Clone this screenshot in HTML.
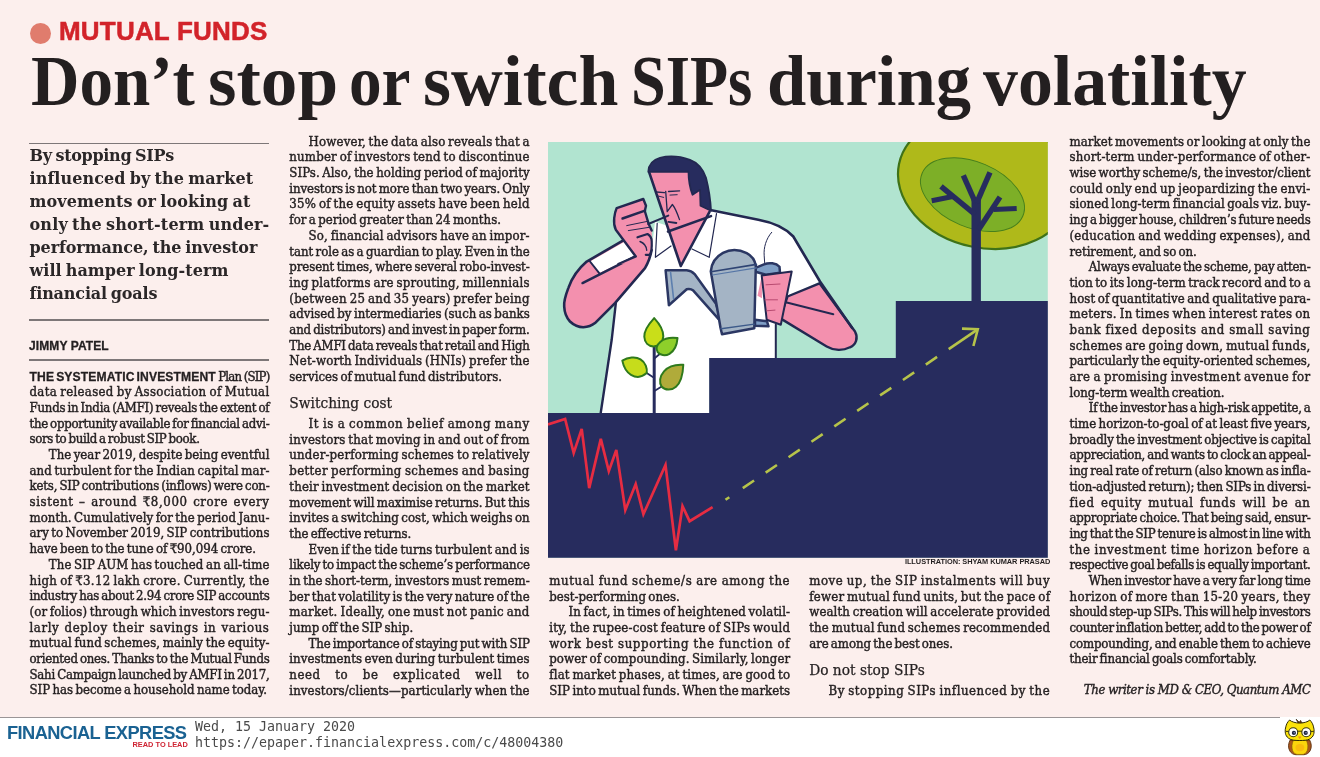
<!DOCTYPE html>
<html lang="en">
<head>
<meta charset="utf-8">
<title>Don’t stop or switch SIPs during volatility</title>
<style>
html,body{margin:0;padding:0}
body{width:1320px;height:757px;overflow:hidden;background:#fff;position:relative;
 font-family:"Liberation Serif",serif;color:#231f20;-webkit-font-smoothing:antialiased}
#paper{position:absolute;left:0;top:0;width:1320px;height:717px;background:#fcefed}
body>*{transform:translateZ(0)}
.abs{position:absolute;white-space:nowrap}
#dot{position:absolute;left:30px;top:23px;width:21px;height:21px;border-radius:50%;background:#e07c6d}
#kicker{left:59px;top:16px;font:bold 26px/30px "Liberation Sans",sans-serif;color:#d2232a;letter-spacing:.2px;-webkit-text-stroke:.5px #d2232a}
#hl{left:0;top:40.5px;margin:0;width:1320px;height:80px;font:bold 72px/80px "Liberation Serif",serif;color:#231f20}
#hl span{position:absolute;top:0;display:block;transform-origin:0 0}
.rule{position:absolute;left:29.2px;width:240.3px;height:1.2px;background:#7d7778}
#stand{left:29.5px;top:143.6px;font:bold 16px/23.13px "DejaVu Serif","Liberation Serif",serif;color:#2b2728;word-spacing:-1.5px}
#byline{left:29px;top:338px;font:bold 12px/16px "Liberation Sans",sans-serif;color:#231f20;letter-spacing:.1px;-webkit-text-stroke:.3px #231f20}
.col{position:absolute;width:var(--w);font:13.1px/15.7px "DejaVu Serif Condensed","DejaVu Serif","Liberation Serif",serif;font-stretch:condensed;color:#231f20;-webkit-text-stroke:.42px #231f20}
.col div{height:15.7px;white-space:nowrap}
.l{text-align:justify;text-align-last:justify;word-spacing:-1.4px}
.l.e{text-align:left;text-align-last:left}
.l.i{text-indent:19.3px}
.col .h{-webkit-text-stroke:.25px #231f20;font-size:15.3px;line-height:20px;height:22.8px;padding-top:8.6px;text-align:left}
.k{font:bold 12.1px/15.7px "Liberation Sans",sans-serif;letter-spacing:.13px;word-spacing:-2.2px;-webkit-text-stroke:.3px #231f20}
.nc .col{font-family:"DejaVu Serif","Liberation Serif",serif;font-stretch:normal;transform:translateZ(0) scaleX(.9);transform-origin:0 0;width:calc(var(--w)/.9)}
.nc #writer{font-family:"DejaVu Serif","Liberation Serif",serif;font-stretch:normal;transform:translateZ(0) scaleX(.9);transform-origin:100% 0;width:268px;left:1042.5px}
#writer{left:1069.5px;top:682.3px;width:241px;text-align:right;font:italic 13.1px/15.7px "DejaVu Serif Condensed","DejaVu Serif","Liberation Serif",serif;font-stretch:condensed;letter-spacing:-.45px;-webkit-text-stroke:.4px #231f20}
#credit{left:850.3px;top:557px;width:200px;text-align:right;font:bold 7.4px/10px "Liberation Sans",sans-serif;letter-spacing:-.05px;color:#231f20}
#illus{position:absolute;left:548px;top:142.2px}
#footrule{position:absolute;left:0;top:716.5px;width:1280px;height:1.2px;background:#9a9596}
#fe{left:7px;top:723px;font:bold 18.3px/20px "Liberation Sans",sans-serif;color:#1a6292;letter-spacing:-.6px}
#rtl{left:132.5px;top:739.8px;font:bold 7.4px/9px "Liberation Sans",sans-serif;color:#cf2433;letter-spacing:0}
#meta{left:195px;top:719px;font:13.3px/16px "DejaVu Sans Mono","Liberation Mono",monospace;color:#4a4a4a}
#owl{position:absolute;left:1283px;top:717px}
</style>
</head>
<body>
<div id="paper"></div>
<div id="dot"></div>
<div id="kicker" class="abs">MUTUAL FUNDS</div>
<h1 id="hl" class="abs"><span style="left:31.1px;transform:scaleX(.931)">Don’t</span> <span style="left:208px;transform:scaleX(1.016)">stop</span> <span style="left:349.3px;transform:scaleX(.905)">or</span> <span style="left:423px;transform:scaleX(.997)">switch</span> <span style="left:630.5px;transform:scaleX(.866)">SIPs</span> <span style="left:767px;transform:scaleX(.98)">during</span> <span style="left:982.5px;transform:scaleX(.969)">volatility</span></h1>

<div class="rule" style="top:142.8px"></div>
<div id="stand" class="abs"><span style="letter-spacing:-.31px">By stopping SIPs</span><br><span style="letter-spacing:.09px">influenced by the market</span><br><span style="letter-spacing:.1px">movements or looking at</span><br><span style="letter-spacing:.17px">only the short-term under-</span><br><span style="letter-spacing:-.1px">performance, the investor</span><br><span style="letter-spacing:.04px">will hamper long-term</span><br><span style="letter-spacing:-.16px">financial goals</span></div>
<div class="rule" style="top:319.4px"></div>
<div id="byline" class="abs">JIMMY PATEL</div>
<div class="rule" style="top:359.4px"></div>

<div class="col" id="c1" style="left:29.5px;top:368.6px;--w:240.00px">
<div class="l" style="letter-spacing:-0.8px"><b class="k">THE SYSTEMATIC INVESTMENT</b> Plan (SIP)</div>
<div class="l" style="letter-spacing:0.323px">data released by Association of Mutual</div>
<div class="l" style="letter-spacing:-0.229px">Funds in India (AMFI) reveals the extent of</div>
<div class="l" style="letter-spacing:-0.274px">the opportunity available for financial advi-</div>
<div class="l e" style="letter-spacing:-0.302px">sors to build a robust SIP book.</div>
<div class="l i" style="letter-spacing:0.023px">The year 2019, despite being eventful</div>
<div class="l" style="letter-spacing:0.102px">and turbulent for the Indian capital mar-</div>
<div class="l" style="letter-spacing:-0.183px">kets, SIP contributions (inflows) were con-</div>
<div class="l" style="letter-spacing:0.6px">sistent – around ₹8,000 crore every</div>
<div class="l" style="letter-spacing:0.04px">month. Cumulatively for the period Janu-</div>
<div class="l">ary to November 2019, SIP contributions</div>
<div class="l e" style="letter-spacing:-0.025px">have been to the tune of ₹90,094 crore.</div>
<div class="l i" style="letter-spacing:0.111px">The SIP AUM has touched an all-time</div>
<div class="l" style="letter-spacing:0.303px">high of ₹3.12 lakh crore. Currently, the</div>
<div class="l" style="letter-spacing:-0.259px">industry has about 2.94 crore SIP accounts</div>
<div class="l" style="letter-spacing:0.097px">(or folios) through which investors regu-</div>
<div class="l" style="letter-spacing:0.6px">larly deploy their savings in various</div>
<div class="l" style="letter-spacing:0.082px">mutual fund schemes, mainly the equity-</div>
<div class="l" style="letter-spacing:-0.254px">oriented ones. Thanks to the Mutual Funds</div>
<div class="l" style="letter-spacing:-0.233px">Sahi Campaign launched by AMFI in 2017,</div>
<div class="l e" style="letter-spacing:-0.007px">SIP has become a household name today.</div>
</div>
<div class="col" id="c2" style="left:289.3px;top:133.7px;--w:240.40px">
<div class="l i" style="letter-spacing:0.169px">However, the data also reveals that a</div>
<div class="l" style="letter-spacing:0.181px">number of investors tend to discontinue</div>
<div class="l" style="letter-spacing:0.066px">SIPs. Also, the holding period of majority</div>
<div class="l" style="letter-spacing:-0.089px">investors is not more than two years. Only</div>
<div class="l" style="letter-spacing:0.214px">35% of the equity assets have been held</div>
<div class="l e" style="letter-spacing:0.018px">for a period greater than 24 months.</div>
<div class="l i" style="letter-spacing:0.171px">So, financial advisors have an impor-</div>
<div class="l" style="letter-spacing:-0.042px">tant role as a guardian to play. Even in the</div>
<div class="l" style="letter-spacing:-0.069px">present times, where several robo-invest-</div>
<div class="l" style="letter-spacing:0.185px">ing platforms are sprouting, millennials</div>
<div class="l" style="letter-spacing:0.254px">(between 25 and 35 years) prefer being</div>
<div class="l">advised by intermediaries (such as banks</div>
<div class="l" style="letter-spacing:-0.163px">and distributors) and invest in paper form.</div>
<div class="l" style="letter-spacing:-0.215px">The AMFI data reveals that retail and High</div>
<div class="l" style="letter-spacing:0.155px">Net-worth Individuals (HNIs) prefer the</div>
<div class="l e" style="letter-spacing:0.012px">services of mutual fund distributors.</div>
<div class="h">Switching cost</div>
<div class="l i" style="letter-spacing:0.599px">It is a common belief among many</div>
<div class="l" style="letter-spacing:0.191px">investors that moving in and out of from</div>
<div class="l" style="letter-spacing:0.171px">under-performing schemes to relatively</div>
<div class="l" style="letter-spacing:0.334px">better performing schemes and basing</div>
<div class="l" style="letter-spacing:0.17px">their investment decision on the market</div>
<div class="l" style="letter-spacing:-0.08px">movement will maximise returns. But this</div>
<div class="l" style="letter-spacing:0.033px">invites a switching cost, which weighs on</div>
<div class="l e" style="letter-spacing:-0.064px">the effective returns.</div>
<div class="l i" style="letter-spacing:0.104px">Even if the tide turns turbulent and is</div>
<div class="l" style="letter-spacing:-0.185px">likely to impact the scheme’s performance</div>
<div class="l">in the short-term, investors must remem-</div>
<div class="l">ber that volatility is the very nature of the</div>
<div class="l" style="letter-spacing:0.268px">market. Ideally, one must not panic and</div>
<div class="l e" style="letter-spacing:0.01px">jump off the SIP ship.</div>
<div class="l i" style="letter-spacing:-0.146px">The importance of staying put with SIP</div>
<div class="l" style="letter-spacing:0.046px">investments even during turbulent times</div>
<div class="l" style="letter-spacing:0.599px">need to be explicated well to</div>
<div class="l" style="letter-spacing:0.103px">investors/clients—particularly when the</div>
</div>
<div class="col" id="c3" style="left:549.2px;top:573.0px;--w:241.00px">
<div class="l" style="letter-spacing:0.6px">mutual fund scheme/s are among the</div>
<div class="l e" style="letter-spacing:0.014px">best-performing ones.</div>
<div class="l i" style="letter-spacing:0.116px">In fact, in times of heightened volatil-</div>
<div class="l" style="letter-spacing:0.213px">ity, the rupee-cost feature of SIPs would</div>
<div class="l" style="letter-spacing:0.6px">work best supporting the function of</div>
<div class="l" style="letter-spacing:0.084px">power of compounding. Similarly, longer</div>
<div class="l" style="letter-spacing:0.177px">flat market phases, at times, are good to</div>
<div class="l" style="letter-spacing:0.047px">SIP into mutual funds. When the markets</div>
</div>
<div class="col" id="c4" style="left:809.2px;top:573.0px;--w:241.00px">
<div class="l" style="letter-spacing:0.544px">move up, the SIP instalments will buy</div>
<div class="l" style="letter-spacing:0.202px">fewer mutual fund units, but the pace of</div>
<div class="l" style="letter-spacing:0.121px">wealth creation will accelerate provided</div>
<div class="l" style="letter-spacing:0.165px">the mutual fund schemes recommended</div>
<div class="l e" style="letter-spacing:-0.07px">are among the best ones.</div>
<div class="h">Do not stop SIPs</div>
<div class="l i" style="letter-spacing:0.514px">By stopping SIPs influenced by the</div>
</div>
<div class="col" id="c5" style="left:1069.5px;top:133.7px;--w:241.00px">
<div class="l" style="letter-spacing:0.067px">market movements or looking at only the</div>
<div class="l" style="letter-spacing:0.159px">short-term under-performance of other-</div>
<div class="l" style="letter-spacing:-0.045px">wise worthy scheme/s, the investor/client</div>
<div class="l" style="letter-spacing:0.202px">could only end up jeopardizing the envi-</div>
<div class="l" style="letter-spacing:0.062px">sioned long-term financial goals viz. buy-</div>
<div class="l" style="letter-spacing:-0.204px">ing a bigger house, children’s future needs</div>
<div class="l" style="letter-spacing:0.224px">(education and wedding expenses), and</div>
<div class="l e" style="letter-spacing:-0.065px">retirement, and so on.</div>
<div class="l i" style="letter-spacing:-0.21px">Always evaluate the scheme, pay atten-</div>
<div class="l" style="letter-spacing:0.053px">tion to its long-term track record and to a</div>
<div class="l" style="letter-spacing:0.069px">host of quantitative and qualitative para-</div>
<div class="l" style="letter-spacing:0.284px">meters. In times when interest rates on</div>
<div class="l" style="letter-spacing:0.6px">bank fixed deposits and small saving</div>
<div class="l" style="letter-spacing:0.23px">schemes are going down, mutual funds,</div>
<div class="l" style="letter-spacing:-0.055px">particularly the equity-oriented schemes,</div>
<div class="l" style="letter-spacing:0.378px">are a promising investment avenue for</div>
<div class="l e" style="letter-spacing:-0.055px">long-term wealth creation.</div>
<div class="l i" style="letter-spacing:-0.297px">If the investor has a high-risk appetite, a</div>
<div class="l">time horizon-to-goal of at least five years,</div>
<div class="l" style="letter-spacing:-0.145px">broadly the investment objective is capital</div>
<div class="l" style="letter-spacing:-0.272px">appreciation, and wants to clock an appeal-</div>
<div class="l" style="letter-spacing:-0.13px">ing real rate of return (also known as infla-</div>
<div class="l" style="letter-spacing:-0.117px">tion-adjusted return); then SIPs in diversi-</div>
<div class="l" style="letter-spacing:0.6px">fied equity mutual funds will be an</div>
<div class="l" style="letter-spacing:-0.247px">appropriate choice. That being said, ensur-</div>
<div class="l" style="letter-spacing:-0.267px">ing that the SIP tenure is almost in line with</div>
<div class="l" style="letter-spacing:0.6px">the investment time horizon before a</div>
<div class="l" style="letter-spacing:-0.315px">respective goal befalls is equally important.</div>
<div class="l i" style="letter-spacing:-0.226px">When investor have a very far long time</div>
<div class="l" style="letter-spacing:0.376px">horizon of more than 15-20 years, they</div>
<div class="l" style="letter-spacing:-0.328px">should step-up SIPs. This will help investors</div>
<div class="l" style="letter-spacing:-0.277px">counter inflation better, add to the power of</div>
<div class="l" style="letter-spacing:-0.154px">compounding, and enable them to achieve</div>
<div class="l e" style="letter-spacing:-0.151px">their financial goals comfortably.</div>
</div>

<div id="writer" class="abs">The writer is MD &amp; CEO, Quantum AMC</div>

<svg id="illus" width="499.8" height="416" viewBox="548 142.2 499.8 416">
<defs><clipPath id="ic"><rect x="548" y="142.2" width="499.8" height="416"/></clipPath></defs>
<g clip-path="url(#ic)" stroke-linejoin="round" stroke-linecap="round">
<rect x="548" y="142" width="500" height="416" fill="#b1e4d0"/>

<!-- tree -->
<g>
<ellipse cx="984.9" cy="181.9" rx="87.7" ry="66.2" transform="rotate(11.7 984.9 181.9)" fill="#afb91a" stroke="#3f7218" stroke-width="2.2"/>
<ellipse cx="972.5" cy="194.8" rx="54.7" ry="32.6" transform="rotate(23 972.5 194.8)" fill="#7daf27" stroke="#47801c" stroke-width="1"/>
<g stroke="#272c5e" fill="none" stroke-linecap="butt">
<path d="M976.2 303V200" stroke-width="9.4"/>
<path d="M975.5 203L963.3 175.5" stroke-width="5.4"/>
<path d="M976.7 203L990 172.5" stroke-width="5.4"/>
<path d="M975 214.5L941 186.5" stroke-width="5.4"/>
<path d="M954 196.5L931.7 201" stroke-width="5"/>
<path d="M978.5 230L1000 197.2" stroke-width="5.4"/>
<path d="M993.5 209.8L1016.7 208.6" stroke-width="5"/>
</g>
</g>

<!-- man: shirt body -->
<g stroke="#232851" stroke-width="2.4">
<!-- torso + right sleeve (white) -->
<path d="M600.8 414L611.7 340L615.8 304.2L645 268.3L651.7 250L655 222L680 230L710 210L758.3 220C772 222.5 785 228 793.3 236.7L820 281.7L788 296.7L780 318L775.8 325V359H709.2V414Z" fill="#fff" stroke="none"/>
<path d="M600.6 414L611.7 340L615.8 303.5" fill="none"/>
<path d="M775.8 358.5V325" fill="none" stroke-width="2"/>

<!-- right arm (viewer's right), pink lobe -->
<path d="M787.5 296.7L819.5 283.5L855 331.7C858.5 338 856 345 850 347.5C843 351 834 351 826.7 346.7L780 318.3Z" fill="#f390ae"/>
<path d="M785.8 302.5L833.3 314.5" fill="none" stroke-width="2"/>
<!-- right shoulder outline -->
<path d="M709 210L758.3 220C772 222.5 785 228 793.3 236.7L820 281.7L852 328" fill="none" stroke-width="2.6"/>
<path d="M771.7 232.5C766 239 763.5 248 764.2 256L765 268" fill="none" stroke-width="1"/>

<!-- left arm (pink) + sleeve cuff (white) -->
<path d="M623.3 240.5L586.7 261.7C577 270 571.5 279 568.3 288.3C565 297 563.6 302 564.2 306.7C564.5 313 566.5 318 570 321.7C574 325.5 578.5 327.5 583.3 327.5C588 327.3 592 325.8 595 323.3L615 303.3L645 268.3C648.5 262.5 650.5 256.5 651.7 250L652.5 238L640 232Z" fill="#f390ae" stroke="none"/>
<path d="M590 261.7L626.7 240.8L636.7 255.8L599.2 273.3Z" fill="#fff" stroke="none"/>
<path d="M623.3 240.5L586.7 261.7C577 270 571.5 279 568.3 288.3C565 297 563.6 302 564.2 306.7C564.5 313 566.5 318 570 321.7C574 325.5 578.5 327.5 583.3 327.5C588 327.3 592 325.8 595 323.3L615 303.3L645 268.3C648.5 262.5 650.5 256.5 651.7 250" fill="none" stroke-width="2.6"/>
<path d="M590 261.7L599.2 273.3" fill="none" stroke-width="2"/>
<path d="M636.7 255.8L582.5 283.3" fill="none" stroke-width="2.4"/>

<!-- neck / face -->
<path d="M649.2 172.5L680.8 266.2L709.5 211L705 190L688.5 171.7Z" fill="#f390ae" stroke="none"/>
<!-- collars -->
<path d="M657.2 223.5L655.4 257.5L671 246.2" fill="none" stroke-width="1.2"/>
<path d="M716.5 213.8L709.2 257.5L692 249.2" fill="none" stroke-width="1.2"/>
<!-- face lines -->
<path d="M649.2 172.5L680.8 266.2L709.5 212" fill="none" stroke-width="2.6"/>
<path d="M668 231.7L711 216.3" fill="none" stroke-width="2.6"/>
<path d="M656.3 192.2L664.5 192.9M668.5 191.7L679.6 191" fill="none" stroke-width="1.3"/>
<path d="M658 196.2L663.7 197.6M670 195.3L677.2 194.9" fill="none" stroke-width="1"/>
<path d="M665.7 191.5L667.2 211.8L672.4 204.7C675 208 677.5 214 679.5 219.8" fill="none" stroke-width="1.3"/>
<path d="M668.4 222.1L676.4 223.2" fill="none" stroke-width="1.8"/>
<!-- hair -->
<path d="M648.3 172C648.5 165 653 160 660 158C668 156 680 156.5 690 160C698 163 703 169 706 178C708.5 188 710.5 200 711 211L700.5 206L700 190L692.5 195C689.5 187 688.5 178 688.5 171.7Z" fill="#272c5e" stroke-width="1.8"/>

<!-- left hand (raised) -->
<path d="M618.3 264.2L635.8 256.7L615.8 230C614 226 613.8 222 614.2 218.3C614.6 214 615.5 211 616.7 208.3L643.3 199.2L646 206L644.8 211.2L648.8 224.5L651.7 230.8L652.2 250L640 263Z" fill="#f390ae" stroke="none"/>
<path d="M618.3 264.2L635.8 256.7L615.8 230C614 226 613.8 222 614.2 218.3C614.6 214 615.5 211 616.7 208.3L643.3 199.2L646 206L644.8 211.2L648.8 224.5L651.7 230.8" fill="none" stroke-width="2.4"/>
<path d="M622.5 218.7L645 210.8" fill="none" stroke-width="2.4"/>
<path d="M626.7 225.8L646.7 221.7M628.3 230.8L649.2 227.5" fill="none" stroke-width="1"/>
<path d="M637.5 237.5L647.5 234.2C650.5 236 651.7 239 651.7 241.7C652 247 651.5 251.5 650 255L645.8 255" fill="none" stroke-width="2.2"/>
<path d="M640 241.7C644.5 243.5 646.5 247 646.7 250.5" fill="none" stroke-width="1.4"/>
<path d="M648.3 224.2L668.3 215.8" fill="none" stroke-width="2"/>

<!-- watering can -->
<g stroke="#2b3763" stroke-width="2.5">
<path d="M665.6 270.4L686.7 270.4C690 270.6 692.5 272 694.6 274.3L716 304L722 323L693.3 290.8C691 289 689 288.8 686.7 289.5L668.9 305.4Z" fill="#a4b4c5"/>
<path d="M670.6 272.8L673.6 299" fill="none" stroke="#5d7fae" stroke-width="1.6"/>
<path d="M755.5 268L764 264.5C769 262.5 776 263 779.5 267L780 273L766 275L755.5 272Z" fill="#7f9fc6"/>
<path d="M755 320L767 321.5L768.5 326.5L755 326Z" fill="#7f9fc6"/>
<path d="M710.8 271.5C711.5 263 716.5 256.5 723 253C730 249.5 739 249.5 746.7 253.3C752 256 755 261 755.8 266L754.3 328.5L722 334.5L720.5 328Z" fill="#a4b4c5"/>
<path d="M711 271.9L756.5 264.6" fill="none" stroke="#2f4474" stroke-width="1.6"/><path d="M712.4 275.2L756.3 268" fill="none" stroke="#5676a6" stroke-width="1.2"/>
<path d="M721 328.9L754.3 324.3" fill="none" stroke="#3d5a8a" stroke-width="1.4"/>
</g>
<!-- right hand holding can -->
<path d="M761.7 276L757.5 296L762 298.5Z" fill="#f390ae" stroke="none"/>
<path d="M761.7 275.8L791.7 271.7L780.8 325L766.7 320Z" fill="#f390ae" stroke-width="2"/>
<path d="M766 285L780 284.2M765 300L777.5 300M766.7 311L775 310.3" fill="none" stroke="#b8496f" stroke-width="1"/>
</g>

<!-- sapling -->
<g stroke="#2f7a1c" stroke-width="2">
<path d="M654.2 414V346" stroke="#272c5e" stroke-width="3" fill="none" stroke-linecap="butt"/>
<path d="M646.7 373.3L653.6 377.8M661.7 386.7L654.8 391M660 354L654.6 358.5" stroke="#272c5e" stroke-width="1.8" fill="none"/>
<path d="M654.2 318.3C648 325 644 331 644.3 337C644.6 343 648.5 346.5 653.5 346.7C658.5 346.5 663 343 663.3 336.5C663.4 330 659.5 324 654.2 318.3Z" fill="#c9de19"/>
<path d="M677.5 338.3C671 337.5 664.5 338.5 660.5 342C656.5 345.5 656 349.5 657.5 352C660 355.5 665 356.5 669.5 354C674.5 351 677 345 677.5 338.3Z" fill="#8ecf2a"/>
<path d="M622.3 360.8C628 357.5 635.5 356.5 640.5 359.5C645.5 362.5 647.5 368.5 646.7 373.3C642 377.5 636 378 631 375C626 372 623.5 366.5 622.3 360.8Z" fill="#c6dc1b"/>
<path d="M683.3 365C676 364.5 668.5 366.5 664 371.5C659.5 376.5 659 383 661.7 387C665 390.5 671.5 391 676 387C681 382.5 683 373 683.3 365Z" fill="#b0ab3a"/>
</g>

<!-- steps (navy) -->
<path d="M548 413.3H709.2V358.3H895.8V301.3H1048V558H548Z" fill="#272c5e"/>

<!-- red line -->
<path d="M548 424.7L565.1 419.1L573.7 453.2L581.7 429.1L589.2 488.3L600.8 439.1L608.8 471.3L616.3 450.2L625.3 510.4L635.7 484.3L643.4 514.4L665.5 465.2L675.9 550.6L682.5 506.4L689.6 521.4L712.6 507.4" fill="none" stroke="#e62c42" stroke-width="2.7" stroke-linejoin="miter" stroke-linecap="butt"/>

<!-- dashed arrow -->
<g stroke="#b6c34a" stroke-width="2.6" fill="none" stroke-linecap="butt">
<path d="M725.5 500L729.3 497.4"/>
<path d="M742.8 488.3L948.7 349.3" stroke-dasharray="13.6 14"/>
<path d="M948.7 349.3L976.6 330.4"/>
<path d="M962 328.8L977.8 329.5L973.4 346.2" stroke-linejoin="miter"/>
</g>
</g>
</svg>

<div id="credit" class="abs">ILLUSTRATION: SHYAM KUMAR PRASAD</div>

<div id="footrule"></div>
<div id="fe" class="abs">FINANCIAL EXPRESS</div>
<div id="rtl" class="abs">READ TO LEAD</div>
<div id="meta" class="abs">Wed, 15 January 2020<br>https://epaper.financialexpress.com/c/48004380</div>
<svg id="owl" width="37" height="40" viewBox="1283 717 37 40">
<g stroke-linejoin="round">
<path d="M1290.2 740C1288.3 743.5 1287.9 747 1289.6 750.6C1291 753.3 1293.6 754.7 1296 754.7H1303.7C1306.2 754.7 1308.8 753.3 1310.2 750.6C1311.9 747 1311.5 743.5 1309.6 740Z" fill="#a9571d" stroke="#5a2c0a" stroke-width=".9"/>
<path d="M1293.4 740.5C1291.8 743.5 1291.6 747.5 1292.6 750.5C1293.5 753 1295.5 754.4 1297.5 754.4H1302.3C1304.3 754.4 1306.3 753 1307.2 750.5C1308.2 747.5 1308 743.5 1306.4 740.5Z" fill="#fbd50c" stroke="#7a5a00" stroke-width=".5"/>
<ellipse cx="1299.9" cy="747.6" rx="4.4" ry="3.6" fill="#f9bc0e"/>
<path d="M1298.3 723.6L1296.2 719.2L1299.2 722.2L1300.6 720.4L1301.6 722.4L1304 723.6Z" fill="#7a3a10" stroke="#2b1a05" stroke-width=".7"/>
<path d="M1289.6 720C1287.5 722 1286.2 724.5 1285.8 726.9C1285.3 728.5 1285.1 730 1285.2 731.6C1285.3 734 1286 735.7 1287.2 737C1289 739 1291.3 739.9 1293.8 740.2C1296 740.5 1298 740.5 1299.7 740.5C1301.5 740.5 1303.5 740.5 1305.7 740.2C1308.2 739.9 1310.4 739 1312.2 737C1313.4 735.7 1314 734 1314.1 731.6C1314.2 730 1314 728.5 1313.5 726.9C1313.1 724.5 1311.8 722 1309.8 720C1308.8 721 1307.4 721.7 1305.7 722.2C1303.8 722.8 1301.8 723.1 1299.7 723.1C1297.7 723.1 1295.6 722.8 1293.8 722.2C1292 721.7 1290.6 721 1289.6 720Z" fill="#fbe20a" stroke="#2f2a00" stroke-width="1"/>
<circle cx="1293.2" cy="732.2" r="4.5" fill="#fff" stroke="#3a3708" stroke-width="1.1"/>
<circle cx="1306.3" cy="732.2" r="4.5" fill="#fff" stroke="#3a3708" stroke-width="1.1"/>
<path d="M1297.6 731.2H1301.9M1285.6 731.4H1288.6M1310.9 731.4H1313.9" stroke="#3a3708" stroke-width="1" fill="none"/>
<circle cx="1293.9" cy="732.9" r="2.1" fill="#1c2340"/>
<circle cx="1305.7" cy="732.9" r="2.1" fill="#1c2340"/>
<circle cx="1294.2" cy="732.7" r=".8" fill="#8b93b8"/>
<circle cx="1306" cy="732.7" r=".8" fill="#8b93b8"/>
<path d="M1297.9 736.6H1301.5L1299.7 738.9Z" fill="#f28a1a"/>
</g>
</svg>

<script>
(function(){function w(f){var s=document.createElement('span');s.style.cssText='position:absolute;visibility:hidden;white-space:nowrap;font:40px '+f;s.textContent='mmmmmmmmmmlli';document.body.appendChild(s);var x=s.offsetWidth;document.body.removeChild(s);return x}
if(w('"DejaVu Serif Condensed",monospace')===w('monospace'))document.body.className='nc';})();
</script>
</body>
</html>
